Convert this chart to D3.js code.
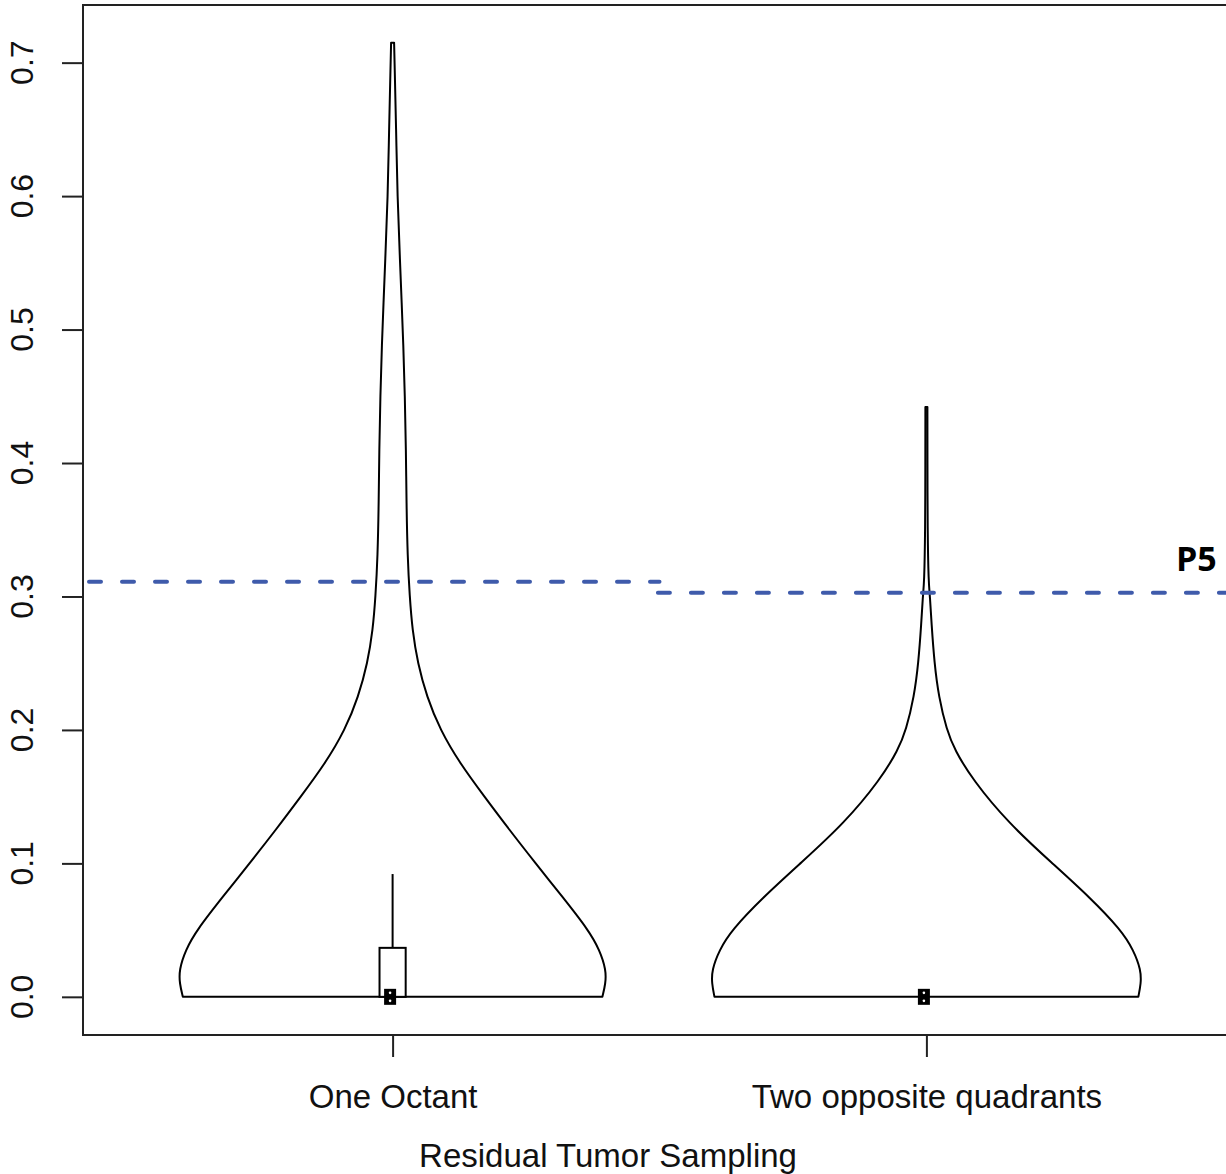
<!DOCTYPE html>
<html><head><meta charset="utf-8">
<script src="https://cdn.jsdelivr.net/npm/d3@7"></script>
<style>body{margin:0;background:#fff}svg{display:block}</style>
</head><body><svg id="c" width="1226" height="1174"></svg>
<script>
const categories = ["One Octant", "Two opposite quadrants"];
const yTicks = [0, 0.1, 0.2, 0.3, 0.4, 0.5, 0.6, 0.7];
// violin profile: value levels and half-widths (density scaled to category units)
const octantLevels = [0, 0.01, 0.02, 0.035, 0.05, 0.075, 0.1, 0.125, 0.15, 0.175, 0.2, 0.225, 0.25, 0.275, 0.3, 0.33, 0.37, 0.41, 0.45, 0.49, 0.52, 0.55, 0.6, 0.65, 0.7, 0.715];
const octantWidths = [0.393, 0.399, 0.400, 0.388, 0.367, 0.318, 0.268, 0.219, 0.172, 0.126, 0.089, 0.064, 0.047, 0.037, 0.032, 0.028, 0.026, 0.025, 0.023, 0.020, 0.017, 0.014, 0.009, 0.0066, 0.0037, 0.0028];
const quadLevels = [0, 0.01, 0.02, 0.035, 0.05, 0.075, 0.1, 0.13, 0.163, 0.185, 0.2, 0.225, 0.25, 0.28, 0.3, 0.31, 0.35, 0.4, 0.442];
const quadWidths = [0.397, 0.402, 0.402, 0.388, 0.365, 0.305, 0.236, 0.154, 0.086, 0.053, 0.038, 0.023, 0.015, 0.0095, 0.0068, 0.0040, 0.0022, 0.0020, 0.0019];
// box stats: q1, q3, upper whisker, median
const boxQ1 = [0, 0];
const boxQ3 = [0.0367, 0];
const whiskerHi = [0.092, 0];
const medians = [0, 0];
// P5 threshold lines
const p5Values = [0.311, 0.3028];
const p5Label = "P5";
const xTitle = "Residual Tumor Sampling";

const svg = d3.select("#c");
const x = d3.scaleLinear().domain([0.42, 2.58]).range([83, 1236]);
const y = d3.scaleLinear().domain([-0.0286, 0.7432]).range([1035, 5]);
const font = "'Liberation Sans', Arial, Helvetica, sans-serif";

// frame
svg.append("rect").attr("x", x(0.42)).attr("y", y(0.7432))
  .attr("width", x(2.58) - x(0.42)).attr("height", y(-0.0286) - y(0.7432))
  .attr("fill", "none").attr("stroke", "#222").attr("stroke-width", 2);

// y axis
const yAxis = svg.append("g").attr("transform", `translate(${x(0.42)},0)`)
  .call(d3.axisLeft(y).tickValues(yTicks).tickFormat(d3.format(".1f")).tickSize(21).tickPadding(0));
yAxis.select(".domain").remove();
yAxis.selectAll(".tick line").attr("stroke", "#222").attr("stroke-width", 2);
yAxis.selectAll(".tick text").remove();
yTicks.forEach(t => {
  svg.append("text").attr("transform", `translate(33,${y(t)}) rotate(-90)`)
    .attr("text-anchor", "middle").attr("font-family", font).attr("font-size", 32)
    .attr("fill", "#111").text(d3.format(".1f")(t));
});

// x axis
const xAxis = svg.append("g").attr("transform", `translate(0,${y(-0.0286)})`)
  .call(d3.axisBottom(x).tickValues([1, 2]).tickFormat((d, i) => categories[i]).tickSize(22).tickPadding(0));
xAxis.select(".domain").remove();
xAxis.selectAll(".tick line").attr("stroke", "#222").attr("stroke-width", 2);
xAxis.selectAll(".tick text").attr("font-family", font).attr("font-size", 33).attr("fill", "#111")
  .attr("dy", null).attr("y", 73);

svg.append("text").attr("x", 608).attr("y", 1167).attr("text-anchor", "middle")
  .attr("font-family", font).attr("font-size", 33).attr("fill", "#111").text(xTitle);

// violins
const profiles = [
  {c: 1, lv: octantLevels, w: octantWidths},
  {c: 2, lv: quadLevels, w: quadWidths}
];
profiles.forEach(p => {
  const pts = p.lv.map((v, i) => ({v, w: p.w[i]}));
  const area = d3.area().curve(d3.curveBasis)
    .y(d => y(d.v)).x0(d => x(p.c - d.w)).x1(d => x(p.c + d.w));
  svg.append("path").attr("d", area(pts)).attr("fill", "none")
    .attr("stroke", "#000").attr("stroke-width", 2).attr("stroke-linejoin", "round");
});

// boxes
categories.forEach((cat, i) => {
  const c = i + 1, bw = 0.0245;
  if (whiskerHi[i] > boxQ3[i]) {
    svg.append("line").attr("x1", x(c)).attr("x2", x(c)).attr("y1", y(boxQ3[i])).attr("y2", y(whiskerHi[i]))
      .attr("stroke", "#000").attr("stroke-width", 2);
  }
  if (boxQ3[i] > boxQ1[i]) {
    svg.append("rect").attr("x", x(c - bw)).attr("y", y(boxQ3[i]))
      .attr("width", x(c + bw) - x(c - bw)).attr("height", y(boxQ1[i]) - y(boxQ3[i]))
      .attr("fill", "#fff").attr("stroke", "#000").attr("stroke-width", 2);
  }
  const mx = x(c) - 2.5, my = y(medians[i]);
  svg.append("rect").attr("x", mx - 6).attr("y", my - 8).attr("width", 12).attr("height", 16)
    .attr("fill", "#000");
  svg.append("circle").attr("cx", mx).attr("cy", my - 4).attr("r", 1.3).attr("fill", "#fff");
  svg.append("circle").attr("cx", mx).attr("cy", my + 4).attr("r", 1.3).attr("fill", "#fff");
});

// P5 dashed lines
const blue = "#3f5bab";
svg.append("line").attr("x1", x(0.42) + 6).attr("x2", x(1.5)).attr("y1", y(p5Values[0])).attr("y2", y(p5Values[0]))
  .attr("stroke", blue).attr("stroke-width", 4).attr("stroke-linecap", "round").attr("stroke-dasharray", "12,21");
svg.append("line").attr("x1", x(1.497)).attr("x2", x(2.58)).attr("y1", y(p5Values[1])).attr("y2", y(p5Values[1]))
  .attr("stroke", blue).attr("stroke-width", 4).attr("stroke-linecap", "round").attr("stroke-dasharray", "12,21");
svg.append("text").attr("x", 1176).attr("y", 571).attr("font-family", "'Open Sans', sans-serif")
  .attr("font-weight", "bold").attr("font-size", 34).attr("fill", "#000").text(p5Label);
</script></body></html>
